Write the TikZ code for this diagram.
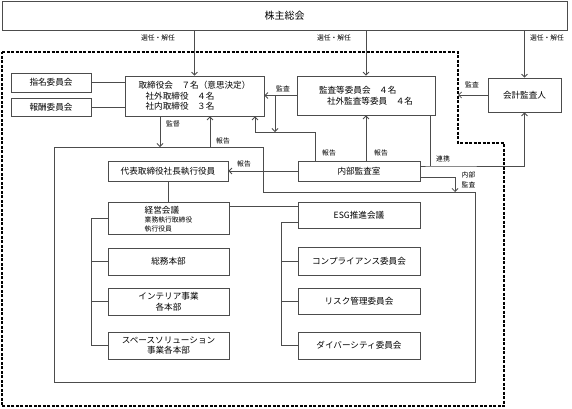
\documentclass[tikz,border=0pt]{standalone}
\usepackage{fontspec}
\setmainfont{Noto Sans CJK JP}
\usetikzlibrary{calc,arrows.meta,positioning}

\begin{document}
\begin{tikzpicture}[x=1pt,y=-1pt]

\tikzset{
org/.style={draw=black!70,line width=0.8pt,inner sep=0pt,align=center,font=\fontsize{8.6}{10.5}\selectfont},
link/.style={draw=black!70,line width=0.8pt},
feed/.style={link,-{Straight Barb[length=3pt,width=6pt]}},
lab/.style={inner sep=0pt,align=center,font=\fontsize{6.8}{9.5}\selectfont},
outer/.style={draw=black,line width=1.3pt,dash pattern=on 3pt off 1.5pt}
}

\useasboundingbox (0,0) rectangle (572,408);

% Nodes
\node[org,minimum width=565,minimum height=29,font=\fontsize{10}{12}\selectfont] (soukai) at (284.5,15.5) {株主総会};

\node[org,minimum width=80,minimum height=19] (shimei) at (51,82.5) {指名委員会};
\node[org,minimum width=80,minimum height=18] (houshu) at (51,107) {報酬委員会};

\node[org,minimum width=139,minimum height=40,align=left] (torishimari) at (194.5,96) {取締役会　７名（意思決定）\\\hspace{7pt}社外取締役　４名\\\hspace{7pt}社内取締役　３名};
\node[org,minimum width=138,minimum height=39,align=left] (kansatou) at (366,95.5) {監査等委員会　４名\\\hspace{8pt}社外監査等委員　４名};
\node[org,minimum width=73,minimum height=34] (kaikei) at (524.5,95) {会計監査人};

\node[org,minimum width=120,minimum height=20] (daihyou) at (168,171) {代表取締役社長執行役員};
\node[org,minimum width=122,minimum height=20] (naibu) at (359,171) {内部監査室};

\node[org,minimum width=121,minimum height=32] (keiei) at (168.5,218) {};
\node[lab,align=left,font=\fontsize{6.8}{9}\selectfont] (keieitxt) at ($(keiei)+(0,1.5)$) {\fontsize{8.6}{9}\selectfont 経営会議\\業務執行取締役\\執行役員};
\node[org,minimum width=121,minimum height=27] (soumu) at (168.5,261.5) {総務本部};
\node[org,minimum width=121,minimum height=27] (interior) at (168.5,301.5) {インテリア事業\\各本部};
\node[org,minimum width=121,minimum height=27] (space) at (168.5,345.5) {スペースソリューション\\事業各本部};

\node[org,minimum width=122,minimum height=26] (esg) at (359,215) {ESG推進会議};
\node[org,minimum width=122,minimum height=28] (comp) at (359,261) {コンプライアンス委員会};
\node[org,minimum width=122,minimum height=26] (risk) at (359,301) {リスク管理委員会};
\node[org,minimum width=122,minimum height=27] (divers) at (359,345.5) {ダイバーシティ委員会};

\coordinate (fnw) at (54,147);
\coordinate (fstep) at (263,192);
\coordinate (fse) at (475,382);
\coordinate (dnw) at (2,52);
\coordinate (dstep) at (458,143);
\coordinate (dse) at (504,406);

\coordinate (kantokux) at (160,0);
\coordinate (hokokux) at (210,0);
\coordinate (rline) at (255,132);
\coordinate (rturn) at (315,132);
\coordinate (branch) at (275,132);
\coordinate (renkei) at (430,166);
\coordinate (naibux) at (455,177);
\coordinate (esgtie) at (0,206);
\coordinate (lbus) at (91,0);
\coordinate (rbus) at (281,222);


% Frames
\draw[outer] (dnw) -- (dnw -| dstep) -- (dstep) -- (dstep -| dse) -- (dse) -- (dnw |- dse) -- cycle;
\draw[link] (fnw) -- (fnw -| fstep) -- (fstep) -- (fstep -| fse) -- (fse) -- (fnw |- fse) -- cycle;


% Arrows
\draw[feed] (soukai.south -| torishimari.north) -- (torishimari.north);
\draw[feed] (soukai.south -| kansatou.north) -- (kansatou.north);
\draw[feed] (soukai.south -| kaikei.north) -- (kaikei.north);

\draw[feed] (kansatou.west) -- (kansatou.west -| torishimari.east);
\draw[feed] (kansatou.west -| branch) -- (branch);
\draw[feed] (kaikei.west) -- (kaikei.west -| dstep);

\draw[feed] (torishimari.south -| kantokux) -- (kantokux |- fnw);
\draw[feed] (fnw -| hokokux) -- (torishimari.south -| hokokux);
\draw[feed] (naibu.north -| rturn) -- (rturn) -- (rline) -- (rline |- torishimari.south);
\draw[feed] (naibu.north -| kansatou.south) -- (kansatou.south);
\draw[feed] (naibu.west) -- (daihyou.east);

\draw[feed] (naibu.east |- renkei) -- (renkei) -- (renkei -| kaikei.south) -- (kaikei.south);
\draw[link] (kansatou.south -| renkei) -- (renkei);
\draw[feed] (naibu.east |- naibux) -- (naibux) -- (naibux |- fstep);


% Lines
\draw[link] (shimei.east) -- (shimei.east -| torishimari.west);
\draw[link] (houshu.east) -- (houshu.east -| torishimari.west);
\draw[link] (daihyou.south) -- (daihyou.south |- keiei.north);
\draw[link] (keiei.east |- esgtie) -- (esgtie -| esg.west);

\draw[link] (keiei.west) -- (keiei.west -| lbus) -- (lbus |- space.west) -- (space.west);
\draw[link] (soumu.west) -- (soumu.west -| lbus);
\draw[link] (interior.west) -- (interior.west -| lbus);

\draw[link] (esg.west |- rbus) -- (rbus) -- (rbus |- divers.west) -- (divers.west);
\draw[link] (comp.west) -- (comp.west -| rbus);
\draw[link] (risk.west) -- (risk.west -| rbus);


% Labels
\node[lab] (sennin1) at (158,38) {選任・解任};
\node[lab] (sennin2) at (334,38) {選任・解任};
\node[lab] (sennin3) at (547,38) {選任・解任};
\node[lab] (kansa1) at (283,89) {監査};
\node[lab] (kansa2) at (472,85) {監査};
\node[lab] (kantoku) at (173,124) {監督};
\node[lab] (hokoku1) at (223,141) {報告};
\node[lab] (hokoku2) at (244,164) {報告};
\node[lab] (hokoku3) at (329,153) {報告};
\node[lab] (hokoku4) at (381,153) {報告};
\node[lab] (renkeilab) at (443,159) {連携};
\node[lab] (naibulab) at (468.5,180) {内部\\監査};

\end{tikzpicture}
\end{document}
